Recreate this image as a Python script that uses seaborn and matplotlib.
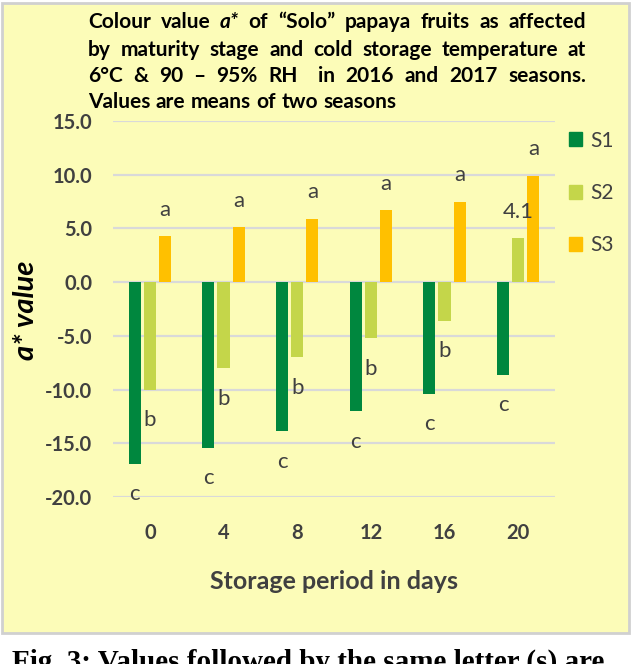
import matplotlib
matplotlib.use("Agg")
import matplotlib.pyplot as plt
import pandas as pd
import seaborn as sns
from matplotlib.patches import Rectangle, Patch

# storage days and maturity stages
days = ['0', '4', '8', '12', '16', '20']
stages = ['S1', 'S2', 'S3']

# a* values (means of two seasons)
s1 = [-16.9, -15.4, -13.9, -12.0, -10.4, -8.6]
s2 = [-10.0, -8.0, -7.0, -5.2, -3.6, 4.1]
s3 = [4.3, 5.1, 5.9, 6.7, 7.5, 9.9]

# letters printed next to the bars
s1_lab = ['c', 'c', 'c', 'c', 'c', 'c']
s2_lab = ['b', 'b', 'b', 'b', 'b', '4.1']
s3_lab = ['a', 'a', 'a', 'a', 'a', 'a']

colors = ['#00873E', '#C4D64A', '#FFC000']
panel = '#FCFCB8'
txt = '#404040'

df = pd.DataFrame({
    'day': days * 3,
    'stage': [s for s in stages for _ in days],
    'value': s1 + s2 + s3,
})

sns.set_style('white')
plt.rcParams['font.family'] = ['Lato', 'DejaVu Sans']

W, H = 634, 664
fig = plt.figure(figsize=(W / 100, H / 100), dpi=100)
fig.patch.set_facecolor('white')

# yellow chart area with grey border
fig.patches.append(Rectangle((2 / W, (H - 633) / H), 627 / W, 630 / H,
                             transform=fig.transFigure, facecolor=panel,
                             edgecolor='#D0D0D0', lw=2, zorder=-10))

ax = fig.add_axes([113 / W, (H - 497) / H, 442 / W, 376 / H])
ax.set_facecolor('none')

sns.barplot(data=df, x='day', y='value', hue='stage', order=days,
            hue_order=stages, palette=colors, saturation=1, width=0.62,
            gap=0.2, errorbar=None, legend=False, ax=ax, zorder=3,
            linewidth=0)

ax.set_ylim(-20, 15)
ax.set_xlim(-0.5, 5.5)
ax.set_yticks(range(-20, 16, 5))
ax.set_yticklabels([f'{v:.1f}' for v in range(-20, 16, 5)])
ax.grid(axis='y', color='#D9D9D9', lw=1.6, zorder=0)
ax.grid(axis='x', visible=False)
ax.set_axisbelow(True)
sns.despine(ax=ax, left=True, bottom=True)
ax.tick_params(length=0)
ax.tick_params(axis='y', pad=15)
ax.tick_params(axis='x', pad=19)
for t in ax.get_xticklabels() + ax.get_yticklabels():
    t.set_fontweight('bold')
    t.set_fontsize(14.5)
    t.set_color(txt)

ax.set_xlabel('Storage period in days', fontsize=18, fontweight='bold',
              color=txt, labelpad=19)
ax.set_ylabel('')
fig.text(26 / W, (H - 310) / H, 'a* value', rotation=90, fontsize=21,
         fontweight='bold', style='italic', ha='center', va='center',
         color='black')

# letters on the bars
for cont, labs in zip(ax.containers, [s1_lab, s2_lab, s3_lab]):
    for bar, lab in zip(cont, labs):
        x = bar.get_x() + bar.get_width() / 2
        end = bar.get_y() + bar.get_height()
        off = -22 if end < 0 else 19
        ax.annotate(lab, (x, end), xytext=(0, off), textcoords='offset points',
                    ha='center', va='center', fontsize=16, color=txt,
                    annotation_clip=False)

# legend
handles = [Patch(facecolor=c, edgecolor=c) for c in colors]
fig.legend(handles, stages, loc='upper left',
           bbox_to_anchor=(550 / W, (H - 112) / H), frameon=False,
           fontsize=15, labelspacing=1.55, handlelength=0.65,
           handleheight=0.65, handletextpad=0.4, labelcolor=txt)

# justified title
fig.canvas.draw()
r = fig.canvas.get_renderer()
title_lines = [
    (['Colour', 'value', 'a*', 'of', '\u201cSolo\u201d', 'papaya', 'fruits', 'as', 'affected'], 22, True),
    (['by', 'maturity', 'stage', 'and', 'cold', 'storage', 'temperature', 'at'], 50, True),
    (['6\u00b0C', '&', '90', '\u2013', '95%', 'RH', '', 'in', '2016', 'and', '2017', 'seasons.'], 76, True),
    (['Values', 'are', 'means', 'of', 'two', 'seasons'], 102, False),
]
x0, x1 = 88, 586
for words, yp, just in title_lines:
    items = []
    for w in words:
        t = fig.text(0, 1 - yp / H, w, fontsize=15, fontweight='bold',
                     style='italic' if w == 'a*' else 'normal',
                     va='center', color='black')
        items.append(t)
    widths = [t.get_window_extent(r).width for t in items]
    if just:
        gap = (x1 - x0 - sum(widths)) / (len(items) - 1)
    else:
        gap = 5.5
    x = x0
    for t, w in zip(items, widths):
        t.set_x(x / W)
        x += w + gap

# caption below the chart, cut by the image edge as in the source
fig.text(12 / W, 1 - 649 / H, 'Fig. 3: Values followed by the same letter (s) are',
         fontsize=21, fontweight='bold', family='Liberation Serif',
         va='top', ha='left', color='black')

fig.savefig('out.png', dpi=100)
